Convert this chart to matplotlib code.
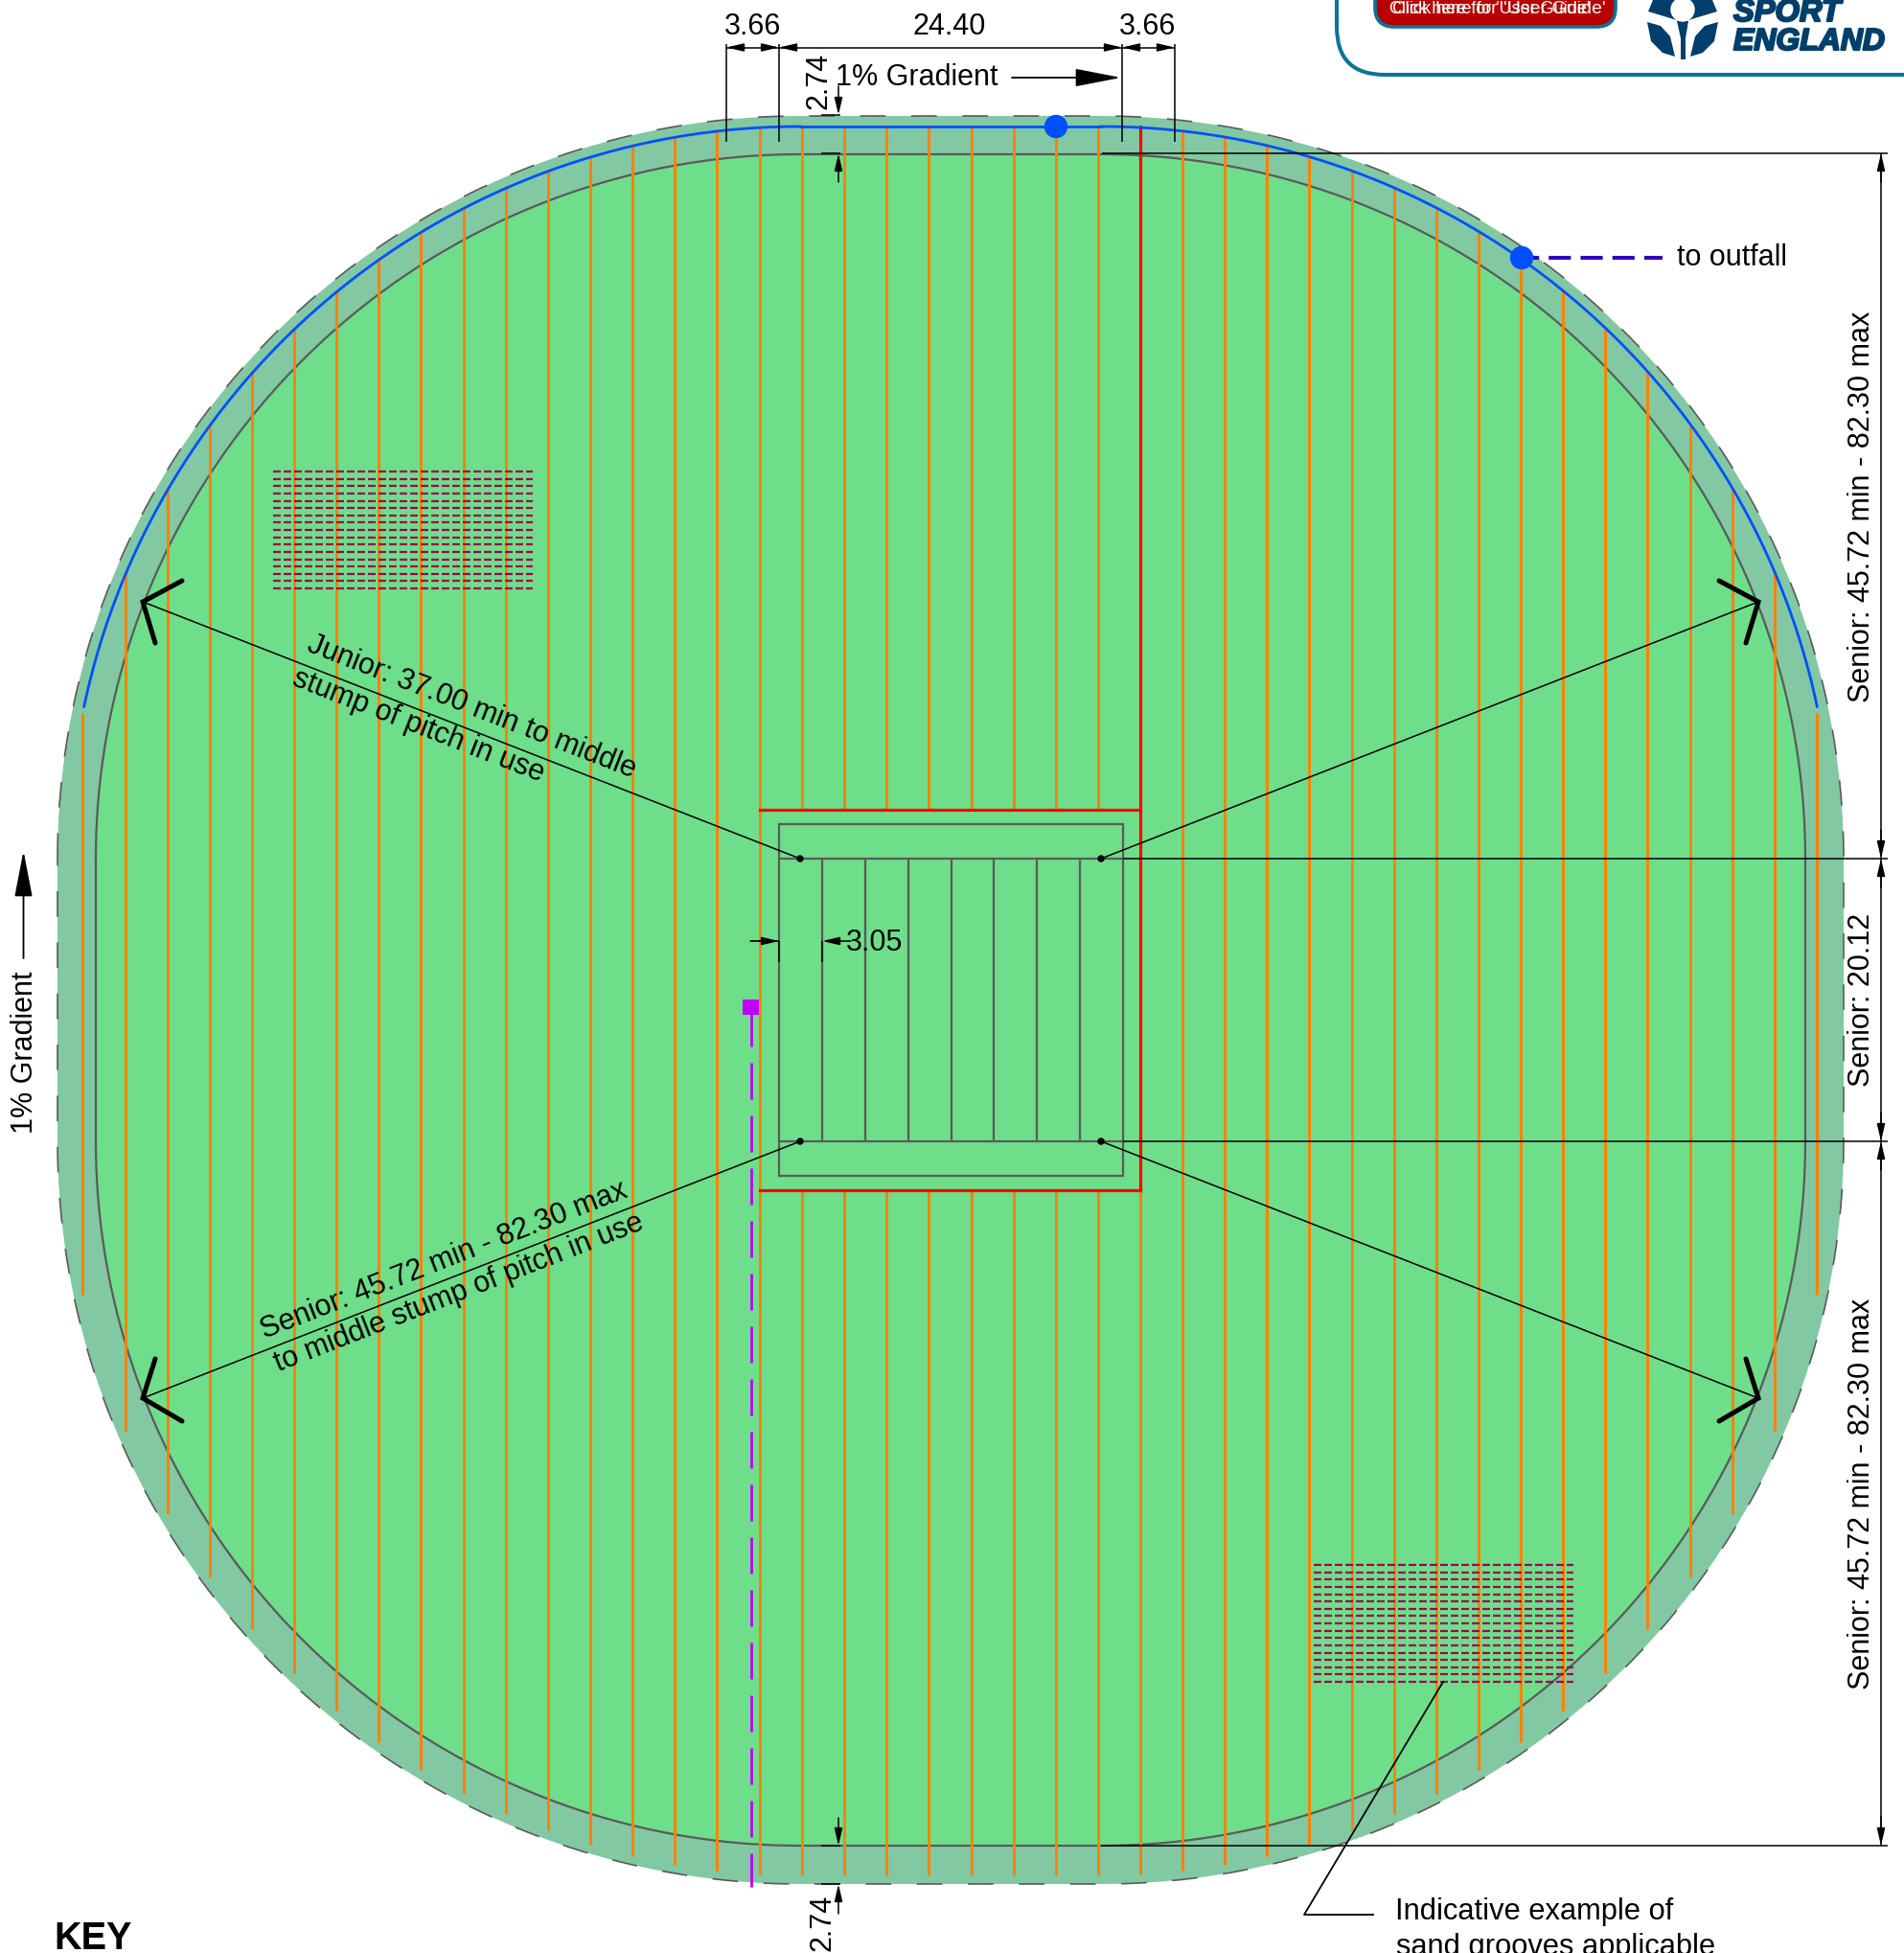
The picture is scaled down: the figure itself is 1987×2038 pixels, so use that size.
import numpy as np
import matplotlib
matplotlib.use("Agg")
import matplotlib.pyplot as plt
import matplotlib.patheffects as pe
from matplotlib.patches import Circle, Ellipse, FancyBboxPatch, Polygon, Rectangle

plt.rcParams['font.family'] = ['Liberation Sans', 'DejaVu Sans']

# everything is in reference pixels
drainX = [86, 131, 175, 219, 263, 307, 351, 395, 439, 484, 528, 572, 616, 660,
          704, 748, 793, 837, 881, 925, 969, 1014, 1058, 1102, 1146, 1190, 1234,
          1278, 1322, 1366, 1411, 1455, 1499, 1543, 1587, 1631, 1675, 1719, 1764,
          1808, 1852, 1896]
drainTop = [744, 598, 510, 443, 388, 343, 304, 270, 242, 216, 195, 178, 163, 151,
            142, 136, 132, 131, 131, 131, 131, 131, 131, 131, 131, 132, 136,
            142, 151, 163, 178, 195, 216, 242, 270, 304, 343, 388, 443,
            510, 598, 744]
drainBottom = [1351, 1493, 1580, 1646, 1700, 1746, 1785, 1818, 1847, 1872, 1893, 1910, 1925, 1937,
               1946, 1952, 1956, 1957, 1957, 1957, 1957, 1957, 1957, 1957, 1957, 1956, 1952,
               1946, 1937, 1925, 1910, 1893, 1872, 1847, 1818, 1785, 1746, 1700, 1646,
               1580, 1493, 1351]
pitchLines = [858, 903, 948, 993, 1037, 1082, 1127]
stumpX = [835, 1149]
stumpY = [896, 1191]
tipX = [149, 1835]
tipY = [628, 1459]
barbs = [[(190, 606), (149, 628), (162, 671)],
         [(1794, 606), (1835, 628), (1822, 671)],
         [(190, 1483), (149, 1459), (162, 1418)],
         [(1794, 1483), (1835, 1459), (1822, 1418)]]
grooveRows = [0, 7.6, 15.2, 22.9, 30.5, 38.1, 45.8, 53.4, 61, 68.6, 76.2, 83.9, 91.5, 99.1, 106.8, 114.4, 122]
grooveBlocks = [(285, 556, 492), (1371, 1642, 1633)]
logoTop = [(1725, 0), (1720, 12), (1740, 18), (1756, 23), (1772, 18), (1792, 12), (1787, 0)]
logoLeft = [(1719, 23), (1733, 27), (1743, 38), (1748, 59), (1735, 55), (1723, 43)]
logoRight = [(1793, 23), (1779, 27), (1769, 38), (1764, 59), (1777, 55), (1789, 43)]
logoStem = [(1750, 22), (1762, 22), (1759, 40), (1759, 62), (1754, 62), (1754, 40)]

GREEN = '#6EDE8B'
BAND = '#82C8A2'
GREY = '#5A5A5A'
ORANGE = '#FF8000'
BLUE = '#0050FF'
RED = '#FF0000'
TEAL = '#0A7399'
NAVY = '#003F6B'
GROOVE = '#A00050'
FS = 22


def arc(cx, cy, r, a0, a1):
    t = np.radians(np.linspace(a0, a1, 90))
    return cx + r * np.cos(t), cy - r * np.sin(t)


def outline(r):
    parts = [arc(stumpX[0], stumpY[0], r, 180, 90), arc(stumpX[1], stumpY[0], r, 90, 0),
             arc(stumpX[1], stumpY[1], r, 0, -90), arc(stumpX[0], stumpY[1], r, -90, -180)]
    xs = np.concatenate([p[0] for p in parts])
    ys = np.concatenate([p[1] for p in parts])
    return np.append(xs, xs[0]), np.append(ys, ys[0])


def dim_arrow(x0, y0, x1, y1):
    ax.annotate('', xy=(x1, y1), xytext=(x0, y0), zorder=8,
                arrowprops=dict(arrowstyle='-|>,head_length=1.08,head_width=0.25', mutation_scale=10,
                                color='black', lw=1.1, shrinkA=0, shrinkB=0))


def big_arrow(x0, y0, x1, y1):
    ax.annotate('', xy=(x1, y1), xytext=(x0, y0), zorder=8,
                arrowprops=dict(arrowstyle='-|>,head_length=3.0,head_width=0.58', mutation_scale=10,
                                color='black', lw=1.3, shrinkA=0, shrinkB=0))


def line(xs, ys, color='black', lw=1.1, **kw):
    kw.setdefault('zorder', 7)
    ax.plot(xs, ys, color=color, lw=lw, solid_capstyle='butt', **kw)


fig = plt.figure(figsize=(19.87, 20.38), dpi=100)
ax = fig.add_axes([0, 0, 1, 1])
ax.set_xlim(0, 1987)
ax.set_ylim(2038, 0)
ax.axis('off')

# pitch surface
x, y = outline(775)
ax.fill(x, y, color=BAND, lw=0, zorder=1)
ax.plot(x, y, color=GREY, lw=1.2, linestyle=(0, (16, 16)), zorder=2)
x, y = outline(735)
ax.fill(x, y, color=GREEN, lw=0, zorder=2)
ax.plot(x, y, color=GREY, lw=1.6, zorder=3)

# land drains, broken over the square
for dx, top, bot in zip(drainX, drainTop, drainBottom):
    if 793 < dx < 1190:
        line([dx, dx], [top, 845], ORANGE, 2.1, zorder=4)
        line([dx, dx], [1242, bot], ORANGE, 2.1, zorder=4)
    elif dx == 1190:
        line([dx, dx], [1242, bot], ORANGE, 2.1, zorder=4)
    else:
        line([dx, dx], [top, bot], ORANGE, 2.1, zorder=4)

# square
ax.plot([793, 1190, 1190], [845, 845, 1242], color=RED, lw=2.3, zorder=5)
ax.plot([793, 1190], [1242, 1242], color=RED, lw=2.3, zorder=5)
ax.plot([1190, 1190], [132, 845], color=RED, lw=2.3, zorder=5)
ax.add_patch(Rectangle((813, 860), 359, 367, fill=False, ec=GREY, lw=1.6, zorder=5))
line([813, 1172], [896, 896], GREY, 1.6, zorder=5)
line([813, 1172], [1191, 1191], GREY, 1.6, zorder=5)
for px in pitchLines:
    line([px, px], [896, 1191], GREY, 1.6, zorder=5)

# main drain
x, y = arc(stumpX[0], stumpY[0], 764, 168, 90)
ax.plot(x, y, color=BLUE, lw=2, zorder=6)
x, y = arc(stumpX[1], stumpY[0], 764, 90, 12)
ax.plot(x, y, color=BLUE, lw=2, zorder=6)
ax.plot([835, 1149], [132, 132], color=BLUE, lw=2, zorder=6)
ax.add_patch(Ellipse((1102, 132), 23, 23, color=BLUE, zorder=9))
ax.add_patch(Ellipse((1588, 269), 23, 23, color=BLUE, zorder=9))
ax.plot([1583, 1735], [269, 269], color='#3300BB', lw=2.9, linestyle=(0, (5.75, 2.5)), zorder=8)
ax.text(1750, 269, 'to outfall', fontsize=FS, ha='left', va='center', zorder=10)

# purple drain run
ax.add_patch(Rectangle((775, 1043), 17, 16, color='#BF00FF', lw=0, zorder=9))
ax.plot([784, 784], [1054, 1969], color='#BF00FF', lw=2, linestyle=(0, (13.7, 6.1)), zorder=8)

# sand grooves
for x0, x1, y0 in grooveBlocks:
    for dy in grooveRows:
        ax.plot([x0, x1], [y0 + dy, y0 + dy], color=GROOVE, lw=1.6, linestyle=(0, (3.6, 1.35)), zorder=6)

# boundary arrows
for sx, tx in zip(stumpX, tipX):
    for sy, ty in zip(stumpY, tipY):
        line([sx, tx], [sy, ty], 'black', 1.1)
        ax.add_patch(Circle((sx, sy), 3, color='black', zorder=8))
for b in barbs:
    ax.plot([p[0] for p in b], [p[1] for p in b], color='black', lw=3.6,
            solid_capstyle='round', solid_joinstyle='miter', zorder=8)

# right hand dimensions
line([1150, 1970], [160, 160])
line([1172, 1970], [896, 896])
line([1172, 1970], [1191, 1191])
line([1149, 1970], [1926, 1926])
line([1963, 1963], [160, 1926])
for y0, y1 in [(160, 896), (896, 1191), (1191, 1926)]:
    dim_arrow(1963, y0 + 30, 1963, y0)
    dim_arrow(1963, y1 - 30, 1963, y1)
ax.text(1943, 529, 'Senior: 45.72 min - 82.30 max', fontsize=FS, rotation=90, ha='center', va='center', zorder=10)
ax.text(1943, 1043, 'Senior: 20.12', fontsize=FS, rotation=90, ha='center', va='center', zorder=10)
ax.text(1943, 1559, 'Senior: 45.72 min - 82.30 max', fontsize=FS, rotation=90, ha='center', va='center', zorder=10)

# top dimensions
for ex in [758, 813, 1171, 1226]:
    line([ex, ex], [46, 148])
line([758, 1226], [49.5, 49.5])
for x0, x1 in [(758, 813), (813, 1171), (1171, 1226)]:
    dim_arrow(x0 + 18, 49.5, x0, 49.5)
    dim_arrow(x1 - 18, 49.5, x1, 49.5)
ax.text(786, 28, '3.66', fontsize=FS, ha='center', va='center', zorder=10)
ax.text(991, 28, '24.40', fontsize=FS, ha='center', va='center', zorder=10)
ax.text(1198, 28, '3.66', fontsize=FS, ha='center', va='center', zorder=10)
ax.text(957, 81, '1% Gradient', fontsize=FS, ha='center', va='center', zorder=10)
big_arrow(1056, 81, 1170, 81)
ax.text(854, 84, '2.74', fontsize=FS, rotation=90, ha='center', va='center', zorder=10)
line([857, 877], [120, 120])
line([857, 877], [160, 160])
dim_arrow(875, 90, 875, 120)
dim_arrow(875, 190, 875, 160)

# bottom 2.74
line([857, 877], [1926, 1926])
line([857, 877], [1966, 1966])
dim_arrow(875, 1897, 875, 1926)
dim_arrow(875, 1997, 875, 1966)
ax.text(859, 2006, '2.74', fontsize=FS, rotation=90, ha='center', va='center', zorder=10)

# 3.05 dimension
line([813, 813], [982, 1004])
line([858, 858], [982, 1004])
line([783, 813], [982, 982])
dim_arrow(783, 982, 813, 982)
dim_arrow(888, 982, 858, 982)
ax.text(913, 984, '3.05', fontsize=FS, ha='center', va='center', zorder=10)

# left gradient
ax.text(26, 1098, '1% Gradient', fontsize=FS, rotation=90, ha='center', va='center', zorder=10)
big_arrow(24.5, 1000, 24.5, 888)

# notes on the radius lines
ax.text(492, 738, 'Junior: 37.00 min to middle', fontsize=FS, rotation=-21.3, ha='center', va='center', rotation_mode='anchor', zorder=10)
ax.text(437, 758, 'stump of pitch in use', fontsize=FS, rotation=-21.3, ha='center', va='center', rotation_mode='anchor', zorder=10)
ax.text(463, 1315, 'Senior: 45.72 min - 82.30 max', fontsize=FS, rotation=21.3, ha='center', va='center', rotation_mode='anchor', zorder=10)
ax.text(479, 1349, 'to middle stump of pitch in use', fontsize=FS, rotation=21.3, ha='center', va='center', rotation_mode='anchor', zorder=10)

# grooves note
ax.plot([1506, 1361, 1433], [1755, 1998, 1998], color='black', lw=1.3, zorder=8)
ax.text(1456, 1995, 'Indicative example of', fontsize=22.2, ha='left', va='center', zorder=10)
ax.text(1457, 2032, 'sand grooves applicable', fontsize=22.2, ha='left', va='center', zorder=10)

ax.text(56, 2034, 'KEY', fontsize=28.5, fontweight='bold', ha='left', va='baseline', zorder=10)

# header box
ax.add_patch(FancyBboxPatch((1395, -100), 640, 178, boxstyle='round,pad=0,rounding_size=50',
                            fc='white', ec=TEAL, lw=2.9, zorder=10))
ax.add_patch(FancyBboxPatch((1435, -30), 251, 58, boxstyle='round,pad=0,rounding_size=20',
                            fc='#B80000', ec=TEAL, lw=2.6, zorder=11))
ax.text(1450, 9, "Click here for 'User Guide'", color='white', fontsize=13, ha='left', va='center', zorder=12)
ax.text(1453, 9, "Click here for", color='white', fontsize=13.4, ha='left', va='center', zorder=12)
ax.text(1676, 9, "'User Guide'", color='white', fontsize=14, ha='right', va='center', zorder=12)

# logo
for shape in [logoTop, logoLeft, logoRight, logoStem]:
    ax.add_patch(Polygon(shape, closed=True, color=NAVY, lw=0, zorder=12))
ax.add_patch(Circle((1756, 10), 12, color='white', zorder=13))
heavy = [pe.withStroke(linewidth=1.6, foreground=NAVY)]
ax.text(1809, 22, 'SPORT', color=NAVY, fontsize=23.5, fontweight='bold', style='italic', ha='left', va='baseline', zorder=12, path_effects=heavy)
ax.text(1809, 52, 'ENGLAND', color=NAVY, fontsize=23, fontweight='bold', style='italic', ha='left', va='baseline', zorder=12, path_effects=heavy)

fig.savefig('out.png', dpi=100)
